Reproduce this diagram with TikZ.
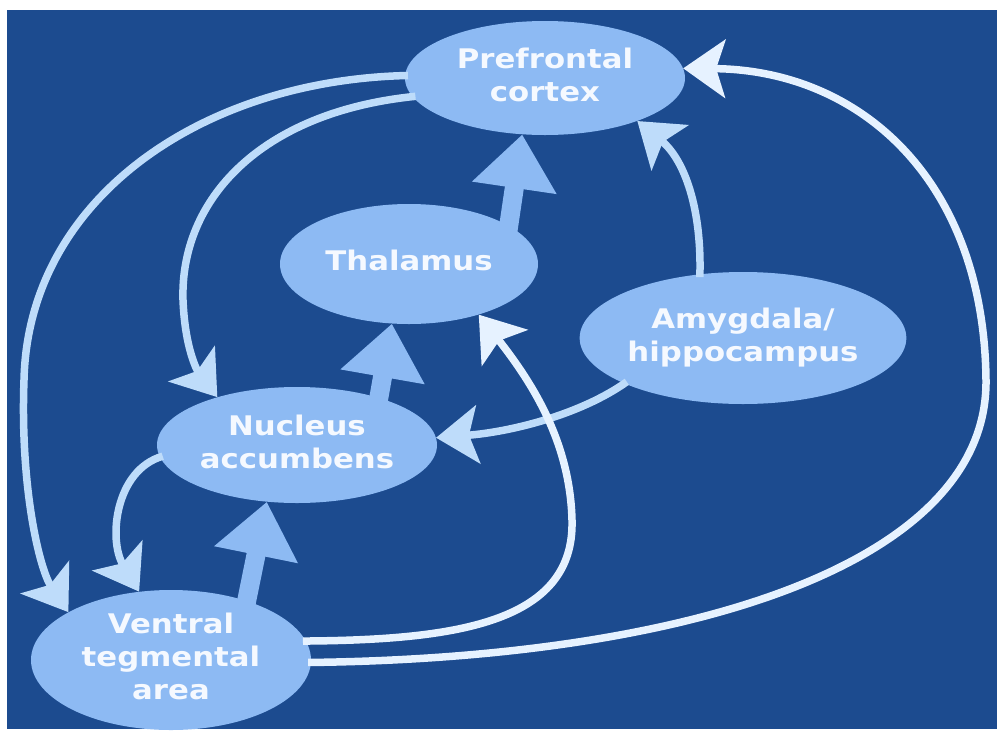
\documentclass[tikz,border=0pt]{standalone}
\usepackage{fontspec}
\setmainfont{DejaVu Sans}
\usetikzlibrary{shapes.geometric,arrows.meta}
\definecolor{bgblue}{RGB}{28,75,143}
\definecolor{nodeblue}{RGB}{141,186,243}
\definecolor{linelight}{RGB}{190,220,250}
\definecolor{linewhite}{RGB}{230,242,255}
\definecolor{txt}{RGB}{245,249,255}
\newcommand{\lbl}[1]{\scalebox{1.14}[1]{\begin{tabular}{@{}c@{}}#1\end{tabular}}}
\begin{document}
\begin{tikzpicture}[x=1pt,y=-1pt,
  region/.style={ellipse, fill=nodeblue, inner sep=0pt, text=txt, font=\bfseries\fontsize{27}{33}\selectfont},
  fatarrow/.style={draw=nodeblue, line width=19pt, shorten <=-8pt, -{Triangle[length=54pt,width=82pt]}},
  thinarrow/.style={line width=7.5pt, shorten <=-3pt, -{Stealth[length=42pt,width=58pt,inset=9pt]}},
]
\fill[white] (0,0) rectangle (997,729);
\fill[bgblue] (7,10) rectangle (997,729);

\node[region, minimum width=280pt, minimum height=114pt] (pfc) at (545,78) {\lbl{Prefrontal\\cortex}};
\node[region, minimum width=258pt, minimum height=120pt] (thal) at (409,264) {\lbl{Thalamus}};
\node[region, minimum width=306pt, minimum height=132pt] (amy) at (743,338) {\lbl{Amygdala/\\hippocampus}};
\node[region, minimum width=280pt, minimum height=116pt] (nac) at (297,445) {\lbl{Nucleus\\accumbens}};
\node[region, minimum width=280pt, minimum height=136pt] (vta) at (171,660) {\lbl{Ventral\\tegmental\\area}};

% thick arrows
\draw[fatarrow] (thal.21) -- (pfc.248);
\draw[fatarrow] (nac.30) -- (thal.254);
\draw[fatarrow] (vta.38) -- (nac.242);

% thin arrows
\draw[thinarrow, linelight] (pfc.179) .. controls (200,80) and (28,200) .. (24,380) .. controls (20,490) and (40,570) .. (vta.155);
\draw[thinarrow, linelight] (pfc.188) .. controls (260,112) and (180,200) .. (183,300) .. controls (185,350) and (198,372) .. (nac.149);
\draw[thinarrow, linelight] (nac.185) .. controls (115,470) and (108,540) .. (vta.115);
\draw[thinarrow, linelight] (amy.124) .. controls (702,210) and (685,160) .. (pfc.335);
\draw[thinarrow, linelight] (amy.201) .. controls (580,415) and (510,432) .. (nac.3);
\draw[thinarrow, linewhite] (vta.8) .. controls (450,640) and (575,625) .. (572,520) .. controls (570,440) and (530,380) .. (thal.324);
\draw[thinarrow, linewhite] (vta.359) .. controls (700,658) and (988,560) .. (986,380) .. controls (984,180) and (860,70) .. (pfc.4);
\end{tikzpicture}
\end{document}
